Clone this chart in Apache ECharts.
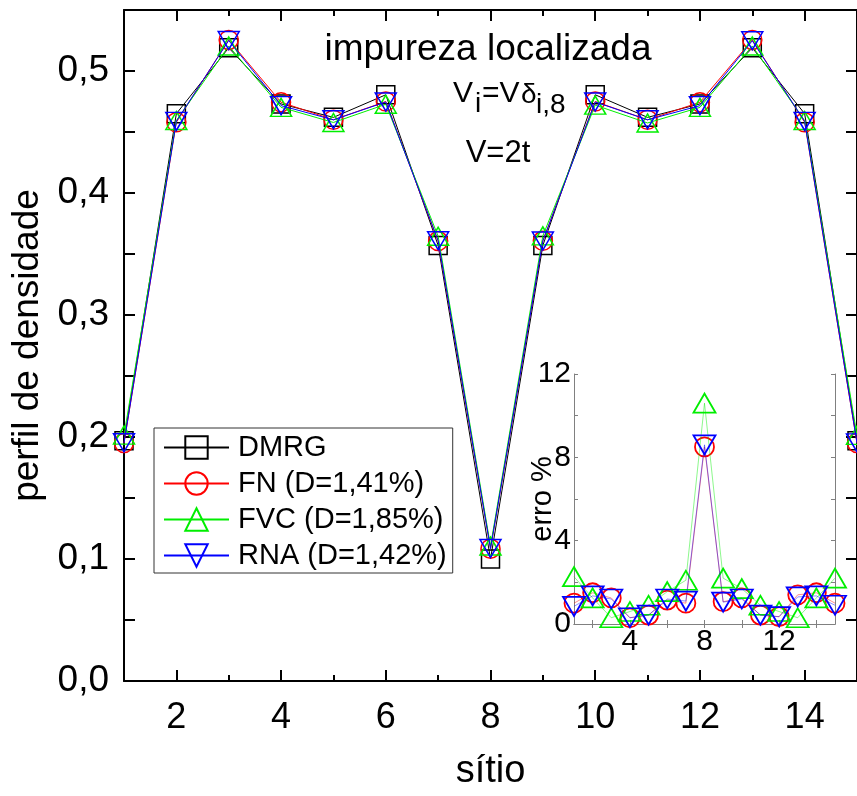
<!DOCTYPE html>
<html><head><meta charset="utf-8">
<script src="https://cdn.jsdelivr.net/npm/echarts@6/dist/echarts.min.js"></script>
<style>html,body{margin:0;padding:0;background:#fff}#c{width:857px;height:796px}</style>
</head><body><div id="c"></div>
<script>
const sites = [1,2,3,4,5,6,7,8,9,10,11,12,13,14,15];
const dmrg = [0.197,0.465,0.519,0.473,0.462,0.4805,0.357,0.100,0.357,0.4805,0.462,0.473,0.519,0.465,0.197];
const fn   = [0.195,0.458,0.5255,0.4744,0.460,0.475,0.3606,0.1085,0.3608,0.475,0.460,0.4744,0.5255,0.458,0.195];
const fvc  = [0.2015,0.4594,0.5205,0.4702,0.4578,0.4727,0.3645,0.1106,0.3649,0.472,0.4574,0.4702,0.5205,0.4594,0.2013];
const rna  = [0.1953,0.4587,0.525,0.4716,0.460,0.4746,0.3609,0.1086,0.3607,0.4746,0.460,0.4716,0.5248,0.4587,0.1952];
const fnErr  = [1.0,1.5,1.25,0.3,0.43,1.15,1.0,8.5,1.07,1.25,0.43,0.35,1.4,1.5,1.0];
const fvcErr = [2.27,1.25,0.3,0.6,0.9,1.55,2.1,10.6,2.2,1.7,0.9,0.6,0.3,1.25,2.2];
const rnaErr = [0.85,1.35,1.2,0.3,0.43,1.2,1.1,8.6,1.05,1.2,0.43,0.35,1.3,1.35,0.9];
const names = ['DMRG','FN (D=1,41%)','FVC (D=1,85%)','RNA (D=1,42%)'];
const xMajor = [2,4,6,8,10,12,14];
const xMinor = [3,5,7,9,11,13];
const yTicks = [0,0.05,0.1,0.15,0.2,0.25,0.3,0.35,0.4,0.45,0.5];
const yLabels = [0,0.1,0.2,0.3,0.4,0.5];
const inXLabels = [4,8,12];
const inXTicks = [2,4,6,8,10,12,14];
const inYLabels = [0,4,8,12];
const inYTicks = [0,2,4,6,8,10,12];

const FONT = 'Liberation Sans, Arial, sans-serif';
const downTri = 'path://M0,0L2,0L1,1.732Z';
const colors = ['#000000','#ff0000','#00ee00','#0000ff'];
const symbols = ['rect','circle','triangle',downTri];
const sizesMain = [18,19,[21,18],[21,18]];
const sizesIn = [18,19,[22,19],[22,19]];

function pair(xs, ys){ return xs.map((x,i)=>[x, ys[i]]); }

const chart = echarts.init(document.getElementById('c'), null, {renderer:'canvas'});
const blk = {color:'#000', width:2};
const gry = {color:'#808080', width:1};

const mainSeries = [dmrg, fn, fvc, rna].map((d,i)=>({
  name: names[i], type:'line', xAxisIndex:0, yAxisIndex:0,
  data: pair(sites, d), symbol: symbols[i], symbolSize: sizesMain[i],
  lineStyle:{color:colors[i], width:1}, itemStyle:{color:'rgba(0,0,0,0)', borderColor:colors[i], borderWidth:1.5},
  emphasis:{disabled:true}, animation:false, z: 2+i
}));
const inSeries = [fnErr, fvcErr, rnaErr].map((d,j)=>{
  const i = j+1;
  return {
    name: 'inset'+i, type:'line', xAxisIndex:4, yAxisIndex:2,
    data: pair(sites, d), symbol: symbols[i], symbolSize: sizesIn[i],
    lineStyle:{color:colors[i], width:1, opacity:0.45}, itemStyle:{color:'rgba(0,0,0,0)', borderColor:colors[i], borderWidth:1.8},
    emphasis:{disabled:true}, animation:false, z: 10+i
  };
});

const option = {
  backgroundColor:'#fff',
  animation:false,
  textStyle:{fontFamily:FONT},
  grid:[
    {left:124, top:10, width:740, height:673},
    {left:574, top:374, width:261, height:250}
  ],
  xAxis:[
    {gridIndex:0, type:'value', position:'bottom', min:1, max:15,
     axisLine:{lineStyle:blk}, splitLine:{show:false},
     axisTick:{inside:true, length:11, lineStyle:blk, customValues:xMajor},
     axisLabel:{customValues:xMajor, fontSize:36, color:'#000', margin:19, fontFamily:FONT},
     name:'sítio', nameLocation:'middle', nameGap:72, nameMoveOverlap:false,
     nameTextStyle:{fontSize:38, color:'#000', fontFamily:FONT}},
    {gridIndex:0, type:'value', position:'bottom', min:1, max:15,
     axisLine:{show:false}, splitLine:{show:false},
     axisTick:{inside:true, length:6, lineStyle:blk, customValues:xMinor}, axisLabel:{show:false}},
    {gridIndex:0, type:'value', position:'top', min:1, max:15,
     axisLine:{lineStyle:blk}, splitLine:{show:false},
     axisTick:{inside:true, length:11, lineStyle:blk, customValues:xMajor}, axisLabel:{show:false}},
    {gridIndex:0, type:'value', position:'top', min:1, max:15,
     axisLine:{show:false}, splitLine:{show:false},
     axisTick:{inside:true, length:6, lineStyle:blk, customValues:xMinor}, axisLabel:{show:false}},
    {gridIndex:1, type:'value', position:'bottom', min:1, max:15,
     axisLine:{lineStyle:gry}, splitLine:{show:false},
     axisTick:{inside:true, length:4, lineStyle:gry, customValues:inXTicks},
     axisLabel:{customValues:inXLabels, fontSize:30, color:'#000', margin:3, fontFamily:FONT}},
    {gridIndex:1, type:'value', position:'top', min:1, max:15,
     axisLine:{lineStyle:gry}, splitLine:{show:false},
     axisTick:{inside:true, length:4, lineStyle:gry, customValues:inXTicks}, axisLabel:{show:false}}
  ],
  yAxis:[
    {gridIndex:0, type:'value', position:'left', min:0, max:0.55,
     axisLine:{lineStyle:blk}, splitLine:{show:false},
     axisTick:{inside:true, length:11, lineStyle:blk, customValues:yTicks},
     axisLabel:{customValues:yLabels, fontSize:37, color:'#000', margin:15, fontFamily:FONT,
       formatter:v=>v.toFixed(1).replace('.',',')},
     name:'perfil de densidade', nameLocation:'middle', nameGap:78, nameMoveOverlap:false,
     nameTextStyle:{fontSize:37, color:'#000', fontFamily:FONT}},
    {gridIndex:0, type:'value', position:'right', min:0, max:0.55,
     axisLine:{lineStyle:blk}, splitLine:{show:false},
     axisTick:{inside:true, length:11, lineStyle:blk, customValues:yTicks}, axisLabel:{show:false}},
    {gridIndex:1, type:'value', position:'left', min:0, max:12,
     axisLine:{lineStyle:gry}, splitLine:{show:false},
     axisTick:{inside:true, length:4, lineStyle:gry, customValues:inYTicks},
     axisLabel:{customValues:inYLabels, fontSize:30, color:'#000', margin:3, fontFamily:FONT},
     name:'erro %', nameLocation:'middle', nameGap:17, nameMoveOverlap:false,
     nameTextStyle:{fontSize:29, color:'#000', fontFamily:FONT}},
    {gridIndex:1, type:'value', position:'right', min:0, max:12,
     axisLine:{lineStyle:gry}, splitLine:{show:false},
     axisTick:{inside:true, length:4, lineStyle:gry, customValues:inYTicks}, axisLabel:{show:false}}
  ],
  legend:{
    data:names, orient:'vertical', left:154, top:428,
    itemWidth:65, itemHeight:28, itemGap:7,
    padding:[5,6,3,9], borderColor:'#333', borderWidth:1, backgroundColor:'#fff',
    textStyle:{fontSize:29, color:'#000', fontFamily:FONT, padding:[0,0,0,4]},
    selectedMode:false
  },
  graphic:[
    {type:'text', x:488, y:50, style:{text:'impureza localizada', font:'37px '+FONT, fill:'#000', align:'center', verticalAlign:'middle'}, z:50},
    {type:'text', x:453, y:94, style:{text:'V', font:'30px '+FONT, fill:'#000', align:'left', verticalAlign:'middle'}, z:50},
    {type:'text', x:475, y:104, style:{text:'i', font:'28px '+FONT, fill:'#000', align:'left', verticalAlign:'middle'}, z:50},
    {type:'text', x:482, y:94, style:{text:'=V', font:'30px '+FONT, fill:'#000', align:'left', verticalAlign:'middle'}, z:50},
    {type:'text', x:521, y:95, style:{text:'δ', font:'28px '+FONT, fill:'#000', align:'left', verticalAlign:'middle'}, z:50},
    {type:'text', x:536, y:105, style:{text:'i,8', font:'28px '+FONT, fill:'#000', align:'left', verticalAlign:'middle'}, z:50},
    {type:'text', x:498, y:153, style:{text:'V=2t', font:'31px '+FONT, fill:'#000', align:'center', verticalAlign:'middle'}, z:50}
  ],
  series: mainSeries.concat(inSeries)
};
chart.setOption(option);
</script></body></html>
